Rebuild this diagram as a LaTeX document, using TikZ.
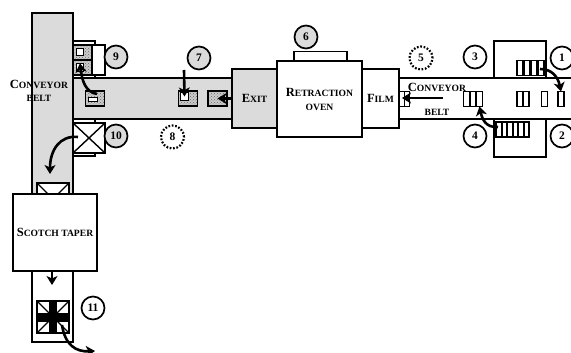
\documentclass[tikz,border=0pt]{standalone}
\usepackage{fontspec}
\setmainfont{Liberation Serif}
\usetikzlibrary{arrows.meta,patterns}
\newcommand{\bigc}[1]{{\fontsize{12.5}{13}\selectfont #1}}
\tikzset{
  x=1pt,y=-1pt,
  every node/.style={inner sep=0pt,outer sep=0pt,font=\bfseries\fontsize{9.6}{11}\selectfont},
  part/.style={draw=black,line width=1.7pt,minimum width=#1},
  partw/.style={part=#1,fill=white},
  partg/.style={part=#1,fill=black!14},
  hatch/.style={draw=black,line width=1.8pt,minimum width=19pt,minimum height=15pt,preaction={fill=black!20},pattern=crosshatch dots,pattern color=black!60},
  inner/.style={draw=black,line width=0.9pt,fill=white},
  film/.style={draw=black,line width=1.6pt,fill=white,minimum width=6pt,minimum height=15pt},
  num/.style={circle,draw=black,line width=1.7pt,minimum size=23pt,fill=white,font=\bfseries\fontsize{11.5}{12}\selectfont},
  numg/.style={num,fill=black!14},
  numd/.style={num,line width=2.2pt,dash pattern=on 1.7pt off 1.7pt},
  flow/.style={draw=black,line width=2.6pt,-{Stealth[inset=2.5pt,length=9pt,width=11pt]}},
  txt/.style={align=center}
}
\begin{document}
\begin{tikzpicture}
\clip (0,0) rectangle (571,353);
% conveyors
\node[partw=41pt,minimum height=71pt] (lowbelt) at (52.5,306.5) {};
\node[partg=41pt,minimum height=258pt] (vbelt) at (52.5,142) {};
\node[partg=159pt,minimum height=41pt] (hbelt) at (152.5,98.5) {};
\draw[line width=1.7pt] (73,78) -- (73,119);
\node[partw=178pt,minimum height=41pt] (rbelt) at (485,98.5) {};
% machines on the right
\node[partw=52pt,minimum height=37pt] (boxtop) at (520,59.5) {};
\node[partw=52pt,minimum height=38pt] (boxbot) at (520,138) {};
\node[film] (f1) at (520,68) {};\node[film] (f2) at (527,68) {};\node[film] (f3) at (534,68) {};\node[film] (f4) at (541,68) {};
\node[film,minimum width=5.5pt] (g1) at (499,129.5) {};\node[film,minimum width=5.5pt] (g2) at (504.5,129.5) {};\node[film,minimum width=5.5pt] (g3) at (510,129.5) {};\node[film,minimum width=5.5pt] (g4) at (515.5,129.5) {};\node[film,minimum width=5.5pt] (g5) at (521,129.5) {};\node[film,minimum width=5.5pt] (g6) at (526.5,129.5) {};
\node[film] (a1) at (466.5,99) {};\node[film] (a2) at (473,99) {};\node[film] (a3) at (479.5,99) {};
\node[film] (b1) at (520,99) {};\node[film] (b2) at (526,99) {};
\node[film] (c1) at (544.5,99) {};
\node[film] (d1) at (561,99) {};
\node[film,minimum width=5pt] (e1) at (402,99) {};\node[film,minimum width=5pt] (e2) at (407,99) {};
% central line
\node[partg=45pt,minimum height=59pt] (exit) at (254.5,98.5) {\bigc{E}XIT};
\node[partw=53pt,minimum height=10pt] (tab) at (320.5,56.5) {};
\node[partw=85pt,minimum height=76pt,txt] (oven) at (319.5,99) {\bigc{R}ETRACTION\\[3pt]OVEN};
\node[partw=37pt,minimum height=59pt] (filmbox) at (380.5,98.5) {\bigc{F}ILM};
% parts at corner
\node[partw=22pt,minimum height=37pt] (tab9) at (84,59.5) {};
\node[partw=32pt,minimum height=30pt] (wr9) at (89,60) {};
\node[hatch] (h1) at (82.5,52.5) {};
\node[hatch] (h2) at (82.5,67.5) {};
\node[inner,minimum width=7.5pt,minimum height=7pt] (h1i) at (80,52) {};
\node[inner,minimum width=7.5pt,minimum height=8.5pt] (h2i) at (80,67.5) {};
\node[hatch] (p1) at (95,98.5) {};
\node[inner,minimum width=9pt,minimum height=4pt] (p1i) at (92.5,99) {};
\node[hatch] (p2) at (188,98.5) {};
\node[inner,minimum width=7.5pt,minimum height=7.5pt] (p2i) at (184.5,96.5) {};
\node[hatch] (p3) at (217.5,98.5) {};
% sealed boxes
\node[partw=22pt,minimum height=37pt] (tab10) at (84,137.5) {};
\node[partw=32pt,minimum height=30pt] (x10) at (89,138) {};
\draw[line width=1.4pt] (x10.north west) -- (x10.south east) (x10.north east) -- (x10.south west);
\node[partw=32pt,minimum height=32pt] (xt) at (53,199) {};
\draw[line width=1.4pt] (xt.north west) -- (xt.south east) (xt.north east) -- (xt.south west);
\node[partw=84pt,minimum height=77pt] (taper) at (55,232.5) {\bigc{S}COTCH TAPER};
\node[partw=32pt,minimum height=32pt] (x11) at (53,317) {};
\draw[line width=1.4pt] (x11.north west) -- (x11.south east) (x11.north east) -- (x11.south west);
\fill[black] ([xshift=12pt]x11.north west) rectangle ([xshift=-12pt]x11.south east);
\fill[black] ([yshift=-12pt]x11.north west) rectangle ([yshift=11pt]x11.south east);
% labels
\node[txt] (cb1) at (39,91) {\bigc{C}ONVEYOR\\[2.5pt]BELT};
\node (cb2) at (437,87) {\bigc{C}ONVEYOR};
\node (cb3) at (437,112) {BELT};
% numbers
\node[num] (n1) at (562,58) {1};
\node[num] (n2) at (562,136) {2};
\node[num] (n3) at (475,57) {3};
\node[num] (n4) at (475,136) {4};
\node[numd] (n5) at (421,58) {5};
\node[numg] (n6) at (306,37) {6};
\node[numg] (n7) at (199,58) {7};
\node[numd] (n8) at (172.5,137) {8};
\node[numg] (n9) at (116,57) {9};
\node[numg] (n10) at (116,136) {10};
\node[num] (n11) at (93,308) {11};
% arrows
\coordinate (s5) at (443,98);
\coordinate (s7) at (184,70);
\coordinate (e10) at (50,174);
\coordinate (s11) at (62,325);
\coordinate (e11) at (95,351);
\coordinate (s1) at (540,69);
\coordinate (s4) at (498,127);
\coordinate (s9) at (97,94);
\coordinate (s10) at (78,137);
\draw[flow] (s1) .. controls (552,69) and (558,77) .. (d1.north);
\draw[flow] (s4) .. controls (485,128) and (482,118) .. (a3.south);
\draw[flow] (s5) -- (402,98);
\draw[flow] (exit.west) -- (p3.center);
\draw[flow] (s7) -- (p2i.center);
\draw[flow] (s9) .. controls (85,92) and (82,80) .. (h2i.north);
\draw[flow] (s10) .. controls (60,135) and (50,150) .. (e10);
\draw[flow] (taper.south -| 52,271) -- (52,285);
\draw[flow] (s11) .. controls (65,345) and (76,352) .. (e11);
\end{tikzpicture}
\end{document}
